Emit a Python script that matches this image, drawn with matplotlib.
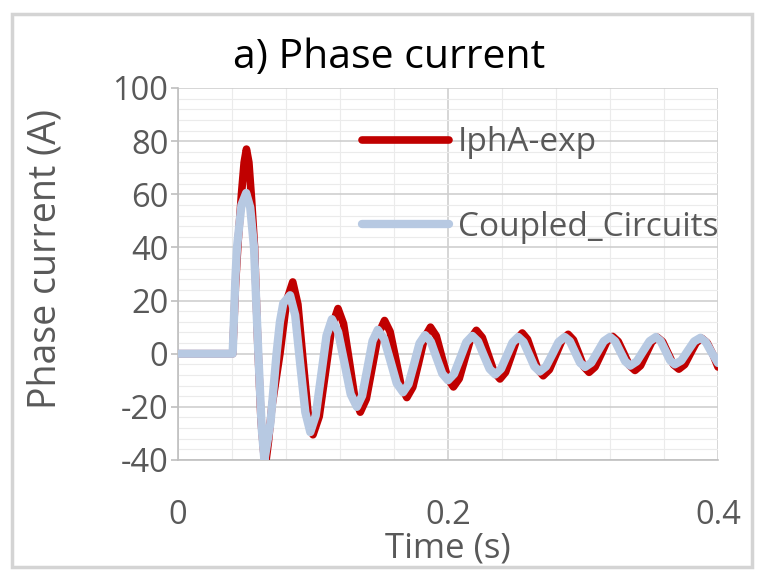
import numpy as np
import matplotlib
matplotlib.use('Agg')
import matplotlib.pyplot as plt
from matplotlib.patches import Rectangle
from matplotlib.ticker import MultipleLocator

plt.rcParams['font.family'] = ['Open Sans', 'DejaVu Sans']
plt.rcParams['axes.unicode_minus'] = False

t_exp = [0.0, 0.0405, 0.0425, 0.0445, 0.047, 0.049, 0.0507,
         0.0525, 0.0545, 0.0567, 0.059, 0.0615, 0.0645,
         0.067, 0.0695, 0.0755, 0.0805, 0.085,
         0.0888, 0.0925, 0.0963, 0.100,
         0.1046, 0.1093, 0.1139, 0.1185,
         0.1226, 0.1268, 0.1309, 0.135,
         0.1395, 0.144, 0.1485, 0.153,
         0.1571, 0.1613, 0.1654, 0.1695,
         0.1739, 0.1783, 0.1826, 0.187,
         0.1913, 0.1955, 0.1998, 0.204,
         0.2083, 0.2125, 0.2168, 0.221,
         0.2254, 0.2298, 0.2341, 0.2385,
         0.2426, 0.2468, 0.2509, 0.255,
         0.2589, 0.2628, 0.2666, 0.2705,
         0.2751, 0.2798, 0.2844, 0.289,
         0.2929, 0.2968, 0.3006, 0.3045,
         0.3089, 0.3133, 0.3176, 0.322,
         0.3261, 0.3303, 0.3344, 0.3385,
         0.3426, 0.3468, 0.3509, 0.355,
         0.359, 0.363, 0.367, 0.371,
         0.3753, 0.3795, 0.3838, 0.388,
         0.392, 0.396, 0.400]
i_exp = [0, 0, 25, 42, 60, 72, 77,
         72, 58, 40, 5, -25, -43,
         -33, -20, 0, 20, 27,
         18.6, -1.8, -22.1, -30.5,
         -23.6, -6.8, 10.1, 17,
         11.3, -2.5, -16.3, -22,
         -17, -4.8, 7.5, 12.5,
         8.3, -2, -12.3, -16.5,
         -12.6, -3.3, 6.1, 10,
         6.7, -1.3, -9.2, -12.5,
         -9.4, -1.9, 5.7, 8.8,
         6.1, -0.4, -6.8, -9.5,
         -7, -0.9, 5.3, 7.8,
         5.4, -0.3, -5.9, -8.3,
         -6, -0.5, 5, 7.3,
         5.2, 0.2, -4.9, -7,
         -5, -0.3, 4.5, 6.5,
         4.6, 0.1, -4.4, -6.3,
         -4.5, 0, 4.4, 6.2,
         4.5, 0.2, -4.1, -5.8,
         -4.1, 0, 4.1, 5.8,
         4.1, 0, -5]

# Coupled_Circuits (simulation)
t_cc = [0.0, 0.0405, 0.0425, 0.0437, 0.047, 0.0505,
        0.0535, 0.0563, 0.0595, 0.062, 0.064,
        0.0685, 0.073, 0.0755, 0.078, 0.083,
        0.0868, 0.0905, 0.0943, 0.098,
        0.102, 0.106, 0.110, 0.114,
        0.1186, 0.1233, 0.1279, 0.1325,
        0.1364, 0.1403, 0.1441, 0.148,
        0.1527, 0.1574, 0.162, 0.1667,
        0.1708, 0.1749, 0.1789, 0.183,
        0.1873, 0.1915, 0.1958, 0.200,
        0.2045, 0.209, 0.2135, 0.218,
        0.2223, 0.2265, 0.2308, 0.235,
        0.2393, 0.2435, 0.2478, 0.252,
        0.256, 0.260, 0.264, 0.268,
        0.2726, 0.2773, 0.2819, 0.2865,
        0.2903, 0.294, 0.2978, 0.3015,
        0.3061, 0.3108, 0.3154, 0.320,
        0.3238, 0.3275, 0.3313, 0.335,
        0.3398, 0.3445, 0.3493, 0.354,
        0.3575, 0.361, 0.3645, 0.368,
        0.3728, 0.3775, 0.3823, 0.387,
        0.391, 0.395, 0.400]
i_cc = [0, 0, 28, 40, 56, 60.5,
        55, 40, 0, -28, -40,
        -26, 0, 12, 19, 22,
        14.5, -3.8, -22, -29.5,
        -23.3, -8.3, 6.8, 13,
        8.2, -3.5, -15.2, -20,
        -15.8, -5.5, 4.8, 9,
        5.6, -2.8, -11.1, -14.5,
        -11.4, -3.8, 3.9, 7,
        4.5, -1.5, -7.5, -10,
        -7.6, -1.7, 4.3, 6.7,
        4.6, -0.6, -5.7, -7.8,
        -5.7, -0.8, 4.2, 6.3,
        4.4, -0.2, -4.8, -6.7,
        -4.8, -0.2, 4.4, 6.3,
        4.7, 0.7, -3.4, -5,
        -3.4, 0.7, 4.7, 6.3,
        4.7, 0.9, -2.9, -4.5,
        -2.9, 0.9, 4.7, 6.3,
        4.8, 1.2, -2.5, -4,
        -2.6, 1, 4.6, 6,
        4.4, 0.7, -3.5]

x_ticks = [0, 0.2, 0.4]
x_ticklabels = ['0', '0.2', '0.4']
y_ticks = [-40, -20, 0, 20, 40, 60, 80, 100]

text_grey = '#595959'

fig = plt.figure(figsize=(7.58, 5.70), dpi=100)
ax = fig.add_axes([178/758, 1-460/570, 540/758, 372/570])

ax.plot(t_exp, i_exp, color='#C00000', linewidth=5.5, solid_joinstyle='round',
        solid_capstyle='round', label='IphA-exp', zorder=3)
ax.plot(t_cc, i_cc, color='#B7C9E2', linewidth=6, solid_joinstyle='round',
        solid_capstyle='round', label='Coupled_Circuits', zorder=4)

ax.set_xlim(0, 0.4)
ax.set_ylim(-40, 100)
ax.set_xticks(x_ticks)
ax.set_xticklabels(x_ticklabels)
ax.set_yticks(y_ticks)
ax.xaxis.set_minor_locator(MultipleLocator(0.04))
ax.yaxis.set_minor_locator(MultipleLocator(4))

ax.grid(True, which='major', color='#CFCFCF', linewidth=1.2, zorder=0)
ax.grid(True, which='minor', color='#EBEBEB', linewidth=0.8, zorder=0)
ax.set_axisbelow(True)

for side in ['top', 'right']:
    ax.spines[side].set_visible(False)
ax.spines['left'].set_color('#BFBFBF')
ax.spines['bottom'].set_color('#BFBFBF')
ax.spines['left'].set_linewidth(1.2)
ax.spines['bottom'].set_linewidth(1.2)

ax.tick_params(axis='y', which='major', length=5, color='#BFBFBF', width=1.2,
               labelsize=23.5, labelcolor=text_grey, pad=2)
ax.tick_params(axis='x', which='major', length=0, labelsize=23.5,
               labelcolor=text_grey, pad=28)
ax.tick_params(which='minor', length=0)

ax.set_xlabel('Time (s)', fontsize=25, color=text_grey)
ax.xaxis.set_label_coords(0.5, -0.238)
ax.xaxis.label.set_va('center')
ax.set_ylabel('Phase current (A)', fontsize=27, color=text_grey)
ax.yaxis.set_label_coords(-0.21, 0.54)
fig.text(389/758, 1-58/570, 'a) Phase current', fontsize=29.5, color='black',
         ha='center', va='center')

leg = ax.legend(loc='upper left', bbox_to_anchor=(0.341, 0.897), frameon=False,
                fontsize=24, handlelength=2.6, handletextpad=0.28,
                labelspacing=1.55, borderaxespad=0, borderpad=0)
for txt in leg.get_texts():
    txt.set_color(text_grey)

# outer chart border
fig.patches.append(Rectangle((12/758, 3/570), 740/758, 553/570, transform=fig.transFigure,
                             fill=False, edgecolor='#D4D4D4', linewidth=2.5))

fig.savefig('out.png', dpi=100)
